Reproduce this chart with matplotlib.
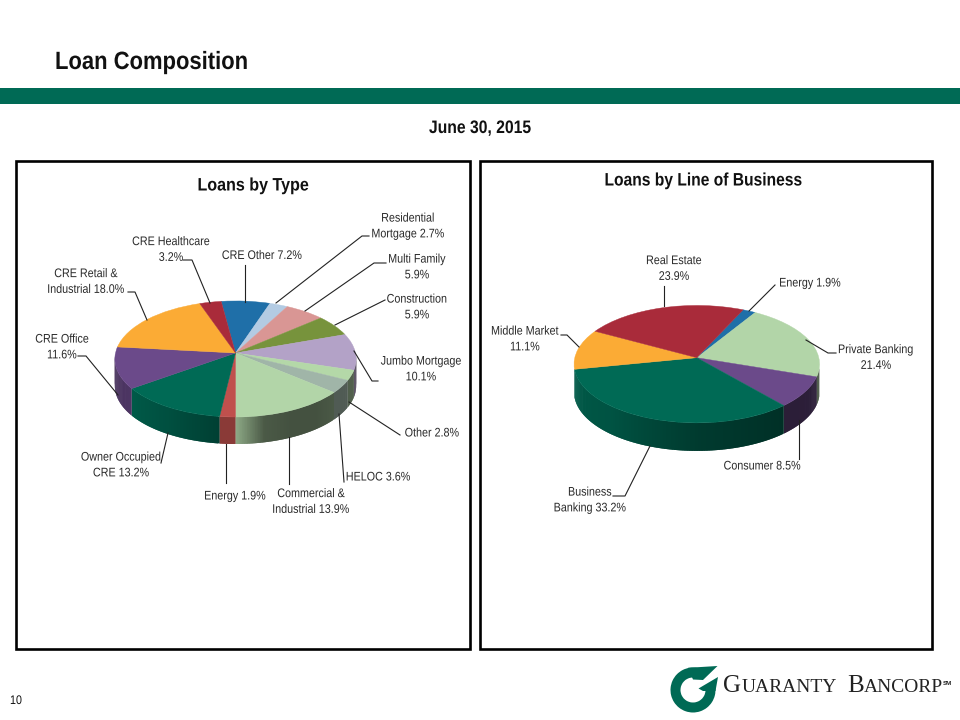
#!/usr/bin/env python3
"""Loan composition slide: two tilted 3D style pies with leader line labels."""

from __future__ import annotations

import matplotlib

matplotlib.use("Agg")
import matplotlib.pyplot as plt
import numpy as np
from matplotlib.colors import to_rgb
from matplotlib.patches import Polygon, Rectangle, Wedge
from matplotlib.patheffects import AbstractPathEffect
from matplotlib.transforms import Affine2D, Transform

TYPE_VALUES = [7.2, 2.7, 5.9, 5.9, 10.1, 2.8, 3.6, 13.9, 1.9, 13.2, 11.6, 18.0, 3.2]
TYPE_LABELS = [
    "CRE Other {}", "Residential\nMortgage {}", "Multi Family\n{}",
    "Construction\n{}", "Jumbo Mortgage\n{}", "Other {}", "HELOC {}",
    "Commercial &\nIndustrial {}", "Energy {}", "Owner Occupied\nCRE {}",
    "CRE Office\n{}", "CRE Retail &\nIndustrial {}", "CRE Healthcare\n{}",
]
TYPE_COLORS = [
    "#1F6FA8", "#B3CBE3", "#D99694", "#77933C", "#B3A2C7", "#B4D8A8", "#A0B5A8",
    "#B2D5A8", "#C0504D", "#006A55", "#6B4A8A", "#FBAB35", "#A92B3A",
]

LOB_VALUES = [1.9, 21.4, 8.5, 33.2, 11.1, 23.9]
LOB_LABELS = [
    "Energy {}", "Private Banking\n{}", "Consumer {}",
    "Business\nBanking {}", "Middle Market\n{}", "Real Estate\n{}",
]
LOB_COLORS = ["#1F6FA8", "#B2D5A8", "#6B4A8A", "#006A55", "#FBAB35", "#A92B3A"]

# label anchor (centre of text block, pixels) and leader line vertices
TYPE_LAYOUT = [
    ((262, 256), [(245, 302), (245, 265)]),
    ((408, 226.5), [(276, 303), (362, 236), (369, 236)]),
    ((417, 267.5), [(305, 311), (374, 263), (386, 263)]),
    ((417, 307.5), [(335, 325), (385, 300)]),
    ((421, 369.5), [(354, 351), (372, 381), (378, 381)]),
    ((432, 433.5), [(349, 402), (400, 435)]),
    ((378, 477.5), [(339, 414), (344, 482)]),
    ((311, 502), [(289, 437), (289, 484)]),
    ((235, 496.5), [(226, 444), (226, 483)]),
    ((121, 465.5), [(168, 433), (161, 463)]),
    ((62, 347.5), [(118, 395), (86, 356), (78, 356)]),
    ((86, 282), [(147, 320), (135, 292), (128, 292)]),
    ((171, 250), [(210, 303), (192, 260), (183, 260)]),
]
LOB_LAYOUT = [
    ((810, 283.5), [(749, 311), (775, 285)]),
    ((876, 358), [(806, 340), (828, 353), (836, 353)]),
    ((762, 466.5), [(799, 420), (799, 459)]),
    ((590, 500.5), [(650, 446), (625, 496), (613, 496)]),
    ((525, 339.5), [(579, 347), (567, 335), (561, 335)]),
    ((674, 269), [(664, 306), (664, 286)]),
]

# wall shading per slice, evenly spaced stops running clockwise along the slice
TYPE_SHADE = [
    [0.6], [0.6], [0.6], [0.6], [0.5, 0.45], [0.42], [0.5],
    [0.42, 0.38, 0.38, 0.42, 0.8], [0.72], [0.6, 0.75, 0.85], [0.72, 0.65],
    [0.6], [0.6],
]
LOB_SHADE = [[0.6], [0.4], [0.42, 0.4], [0.45, 0.55, 0.78, 0.85], [0.7], [0.6]]

BAND = "#006A55"
SANS = ["Liberation Sans", "DejaVu Sans"]
SERIF = ["Liberation Serif", "DejaVu Serif"]


class Tilt(Transform):
    """Perspective map of the unit disc onto slide pixels."""

    input_dims = output_dims = 2

    def __init__(self, cx, cy, r, a, k):
        super().__init__()
        self.cx, self.cy, self.r, self.a, self.k = cx, cy, r, a, k

    def transform_non_affine(self, xy):
        xy = np.asarray(xy, dtype=float)
        w = 1 + self.k * xy[:, 1]
        return np.column_stack(
            [self.cx + self.r * xy[:, 0] / w, self.cy - self.a * xy[:, 1] / w]
        )


class Squeeze(AbstractPathEffect):
    """Narrow a text horizontally about x, the slide font is a condensed one."""

    def __init__(self, x, sx):
        super().__init__()
        self.x, self.sx = x, sx

    def draw_path(self, renderer, gc, tpath, affine, rgbFace=None):
        squeeze = Affine2D().translate(-self.x, 0).scale(self.sx, 1).translate(self.x, 0)
        renderer.draw_path(gc, tpath, affine + squeeze, rgbFace)


def slide_text(ax, x, y, s, sx=0.86, **kw):
    t = ax.text(x, y, s, family=SANS, va="center", **kw)
    t.set_path_effects([Squeeze(x, sx)])
    return t


def draw_pie(ax, values, colors, shades, start, cx, cy, r, a, k, depth, wall_from):
    tilt = Tilt(cx, cy, r, a, k)
    edges = start - np.cumsum([0] + list(values)) * 3.6

    # side wall, thin overlapping quads so no seams show between them
    for i, color in enumerate(colors):
        steps = max(int((edges[i] - edges[i + 1]) / 0.7), 2)
        th = np.radians(np.linspace(edges[i], edges[i + 1], steps + 1))
        rgb = np.array(to_rgb(color))
        stops = shades[i] if len(shades[i]) > 1 else shades[i] * 2
        for j in range(steps):
            f = np.interp((j + 0.5) / steps, np.linspace(0, 1, len(stops)), stops)
            part = th[j : j + 3]
            p = tilt.transform_non_affine(np.column_stack([np.cos(part), np.sin(part)]))
            if p[:, 1].mean() < cy + wall_from:
                continue
            xs = np.r_[p[:, 0], p[::-1, 0]]
            ys = np.r_[p[:, 1], p[::-1, 1] + depth]
            ax.fill(xs, ys, color=tuple(rgb * f), lw=0, zorder=2)

    wedges, _ = ax.pie(
        values, colors=colors, startangle=start, counterclock=False,
        wedgeprops={"linewidth": 0.3}, frame=True,
    )
    for w in wedges:
        w.set_edgecolor(w.get_facecolor())
        w.set_transform(tilt + ax.transData)
        w.set_zorder(3)


def draw_labels(ax, labels, values, layout):
    for label, value, (pos, line) in zip(labels, values, layout):
        xs, ys = zip(*line)
        ax.plot(xs, ys, color="#222222", lw=0.8, zorder=4, solid_joinstyle="miter")
        slide_text(
            ax, pos[0], pos[1], label.format(f"{value:.1f}%"), ha="center",
            fontsize=9, color="#2a2a2a", linespacing=1.42, zorder=5,
        )


def draw_logo(ax):
    ax.add_patch(Wedge((693, 690), 22.5, -5, 300, width=10, color=BAND, lw=0))
    ax.add_patch(Polygon([(688, 667.8), (717.5, 666), (703, 680), (693, 679.5)],
                         closed=True, color=BAND, lw=0))
    ax.add_patch(Polygon([(718, 677), (698.5, 688.5), (703, 691), (715.5, 691)],
                         closed=True, color=BAND, lw=0))
    for x, big, small, dx in [(723, "G", "UARANTY", 18.5), (847, "B", "ANCORP", 17)]:
        ax.text(x, 692, big, family=SERIF, fontsize=18, color="#222222", va="baseline")
        ax.text(x + dx, 692, small, family=SERIF, fontsize=14, color="#222222", va="baseline")
    ax.text(943, 685, "SM", family=SANS, fontsize=4.5, weight="bold",
            color="#222222", va="baseline")


def main() -> None:
    fig = plt.figure(figsize=(9.6, 7.2), dpi=100)
    ax = fig.add_axes([0, 0, 1, 1])

    draw_pie(ax, TYPE_VALUES, TYPE_COLORS, TYPE_SHADE, 97.56, 235.5, 353, 120, 57.4, 0.103, 27, 3)
    draw_pie(ax, LOB_VALUES, LOB_COLORS, LOB_SHADE, 65.3, 696.8, 357.7, 122, 58, 0.11, 28, 11)

    ax.set_aspect("auto")
    ax.set_xlim(0, 960)
    ax.set_ylim(720, 0)
    ax.axis("off")

    ax.add_patch(Rectangle((0, 88), 960, 16, color=BAND, lw=0))
    for x0, x1 in [(16.3, 469.5), (479.5, 931.5)]:
        ax.add_patch(Rectangle((x0, 160.6), x1 - x0, 488.4, fill=False, ec="black", lw=1.9))

    draw_labels(ax, TYPE_LABELS, TYPE_VALUES, TYPE_LAYOUT)
    draw_labels(ax, LOB_LABELS, LOB_VALUES, LOB_LAYOUT)

    slide_text(ax, 55, 62, "Loan Composition", sx=0.88, weight="bold", fontsize=18, color="#111111")
    slide_text(ax, 480, 128.5, "June 30, 2015", sx=0.87, weight="bold", fontsize=13,
               color="#111111", ha="center")
    slide_text(ax, 253, 186, "Loans by Type", sx=0.89, weight="bold", fontsize=13,
               color="#111111", ha="center")
    slide_text(ax, 703, 181, "Loans by Line of Business", sx=0.864, weight="bold", fontsize=13,
               color="#111111", ha="center")
    slide_text(ax, 16, 701, "10", fontsize=9, color="#111111", ha="center")

    draw_logo(ax)
    fig.savefig("out.png", dpi=100)
    plt.close(fig)


if __name__ == "__main__":
    main()
